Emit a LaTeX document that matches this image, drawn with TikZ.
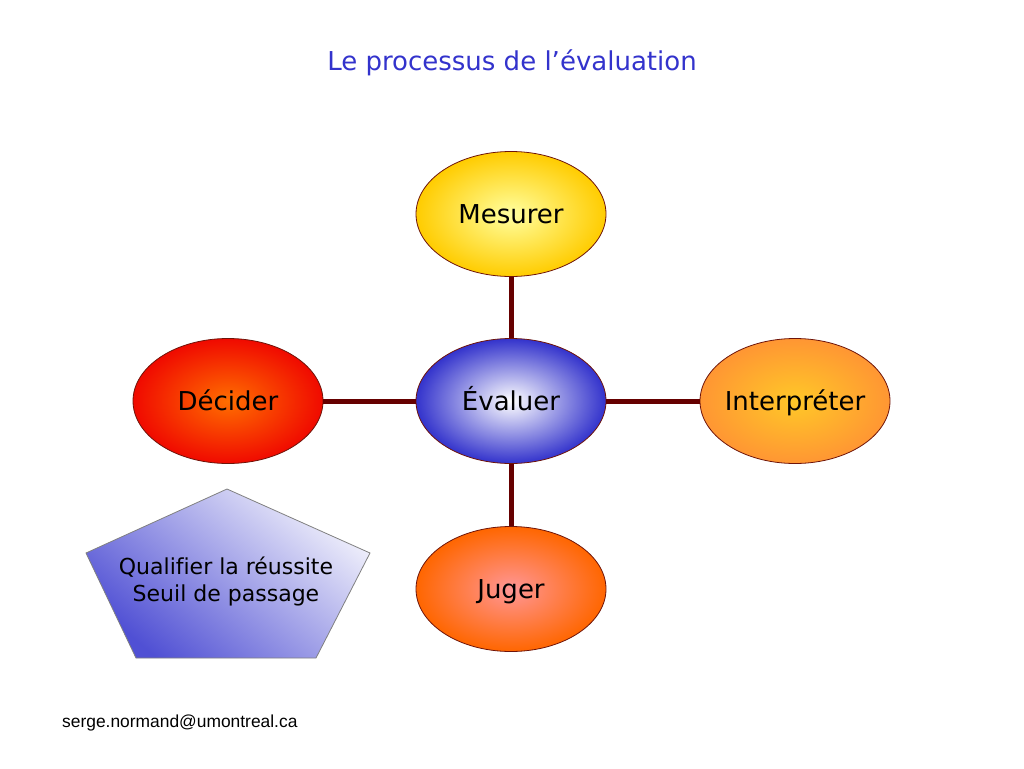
\documentclass[tikz,border=0pt]{standalone}
\usepackage{fontspec}
\setmainfont{DejaVu Sans}[Ligatures={NoCommon}]
\newfontfamily\mailfont{Liberation Sans}
\usetikzlibrary{shapes.geometric}
\definecolor{titleblue}{RGB}{51,51,204}
\definecolor{linkred}{RGB}{102,0,0}
\definecolor{rimred}{RGB}{110,20,10}
\newcommand{\lbl}[1]{\makebox[0pt]{\vphantom{Jp}\raisebox{-3pt}[0pt][0pt]{#1}}}
\tikzset{
  oval/.style={ellipse, draw=rimred, line width=0.8pt, minimum width=190pt, minimum height=125pt, inner sep=0pt, font=\fontsize{26}{28}\selectfont},
  link/.style={draw=linkred, line width=5pt},
}
\begin{document}
\begin{tikzpicture}[x=1pt,y=-1pt]
\useasboundingbox (0,0) rectangle (1024,768);
\node[text=titleblue, font=\fontsize{26}{28}\selectfont] (title) at (512,63) {Le processus de l’évaluation};
\node[oval, inner color={rgb,255:red,255;green,255;blue,160}, outer color={rgb,255:red,255;green,204;blue,0}] (mes) at (511,214) {\lbl{Mesurer}};
\node[oval, inner color=white, outer color={rgb,255:red,51;green,51;blue,204}] (eva) at (511,401) {\lbl{Évaluer}};
\node[oval, inner color={rgb,255:red,255;green,110;blue,0}, outer color={rgb,255:red,240;green,10;blue,0}] (dec) at (228,401) {\lbl{Décider}};
\node[oval, inner color={rgb,255:red,255;green,200;blue,40}, outer color={rgb,255:red,255;green,150;blue,51}] (int) at (795,401) {\lbl{Interpréter}};
\node[oval, inner color={rgb,255:red,255;green,150;blue,150}, outer color={rgb,255:red,255;green,102;blue,0}] (jug) at (511,589) {\lbl{Juger}};
\draw[link] (eva) -- (mes);
\draw[link] (eva) -- (dec);
\draw[link] (eva) -- (int);
\draw[link] (eva) -- (jug);
\coordinate (p1) at (227,489);
\coordinate (p2) at (370,553);
\coordinate (p3) at (316,658);
\coordinate (p4) at (136,658);
\coordinate (p5) at (86,553);
\shade[bottom color={rgb,255:red,80;green,80;blue,212}, middle color={rgb,255:red,212;green,212;blue,242}, top color={rgb,255:red,240;green,240;blue,251}, shading angle=-40] (p1) -- (p2) -- (p3) -- (p4) -- (p5) -- cycle;
\draw[draw={rgb,255:red,128;green,128;blue,128}, line width=0.8pt] (p1) -- (p2) -- (p3) -- (p4) -- (p5) -- cycle;
\node[align=center, font=\fontsize{22}{27}\selectfont] (qual) at (226,581) {Qualifier la réussite\\Seuil de passage};
\node[anchor=west, font=\mailfont\fontsize{17.4}{20}\selectfont, inner sep=0pt] (mail) at (62,723) {serge.normand@umontreal.ca};
\end{tikzpicture}
\end{document}
